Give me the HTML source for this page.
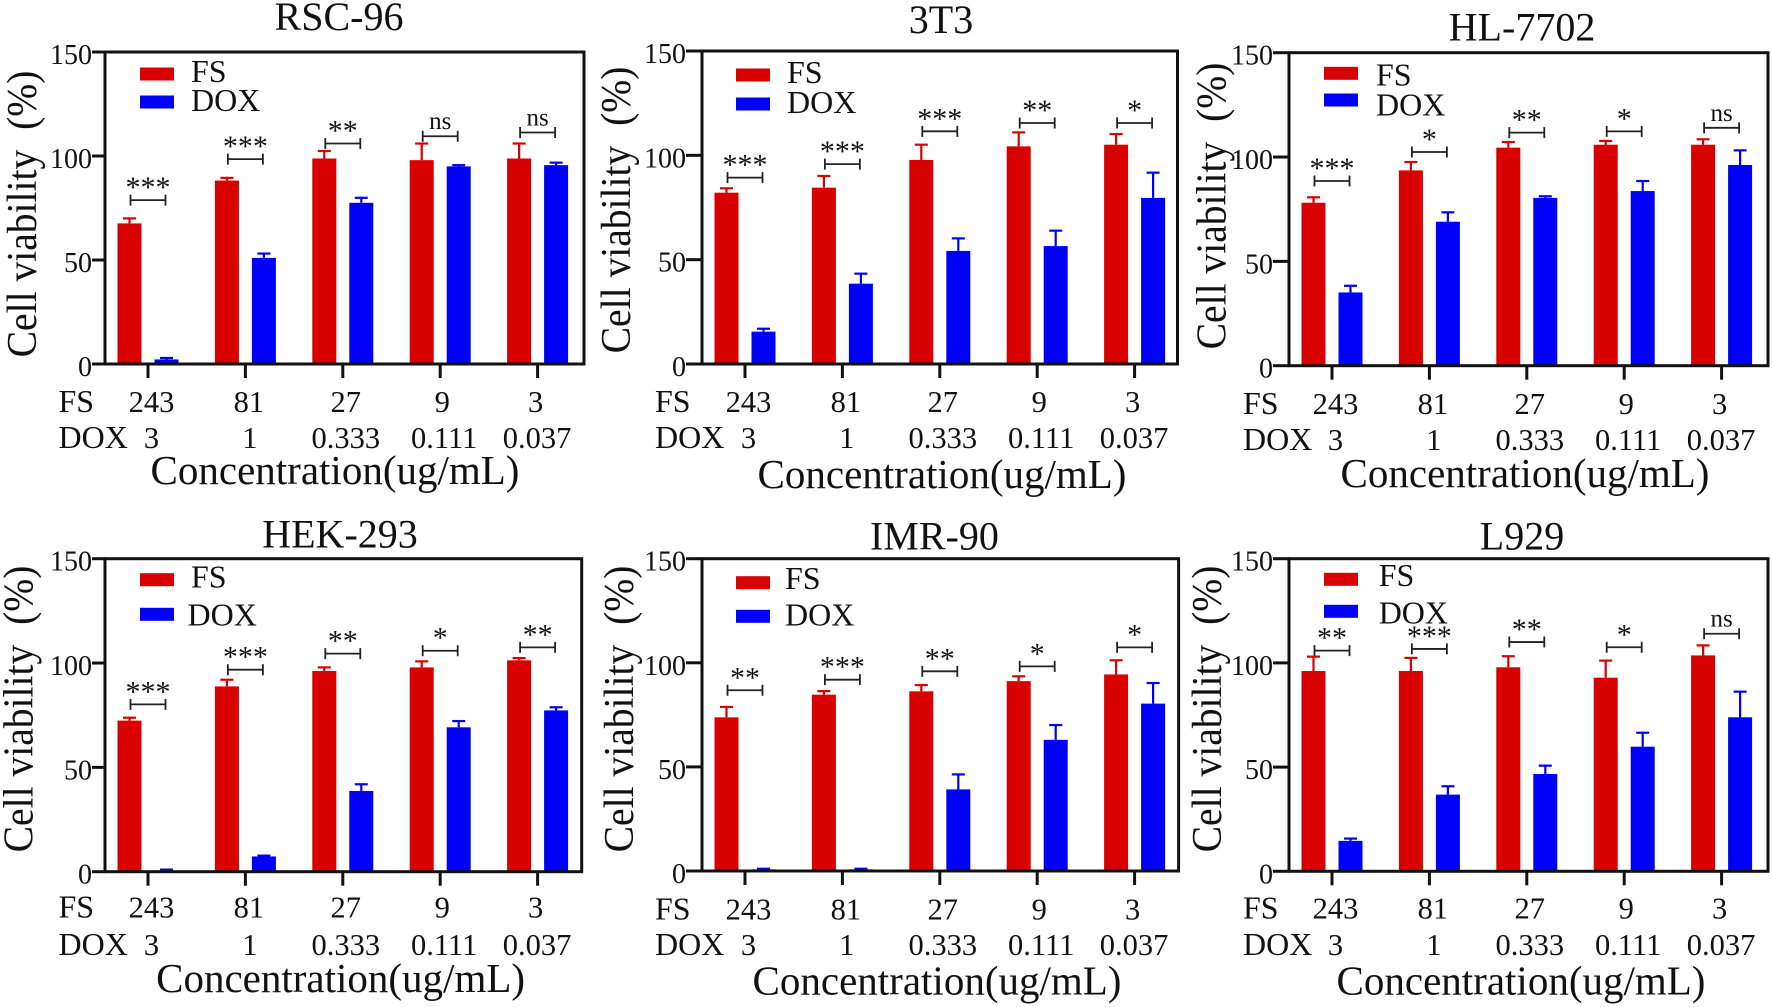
<!DOCTYPE html>
<html lang="en">
<head>
<meta charset="utf-8">
<title>Cell viability panels</title>
<style>
html,body{margin:0;padding:0;background:#fff;width:1772px;height:1007px;overflow:hidden}
svg{display:block;filter:blur(0.35px)}
text{font-family:"Liberation Serif",serif;fill:#111}
</style>
</head>
<body>
<svg id="chart" width="1772" height="1007" viewBox="0 0 1772 1007" xmlns="http://www.w3.org/2000/svg"></svg>
<script>
const fsDoses = ['243', '81', '27', '9', '3'];
const doxDoses = ['3', '1', '0.333', '0.111', '0.037'];
const yTicks = [0, 50, 100, 150];
const cellLines = ['RSC-96', '3T3', 'HL-7702', 'HEK-293', 'IMR-90', 'L929'];

const rscFs = [67.6, 88.2, 98.8, 98, 98.8];
const rscFsErr = [70, 89.5, 102.4, 106, 106];
const rscDox = [2.2, 51, 77.5, 95, 95.6];
const rscDoxErr = [2.9, 53.1, 79.9, 95.6, 96.8];
const rscSigLevel = [78.8, 98.5, 106, 109.5, 111.3];
const rscSigLabel = ['***', '***', '**', 'ns', 'ns'];

const t3Fs = [82.1, 84.5, 97.8, 104.3, 105.1];
const t3FsErr = [84.2, 90.1, 105.1, 111, 110.2];
const t3Dox = [15.5, 38.5, 54.2, 56.5, 79.6];
const t3DoxErr = [16.9, 43.3, 60.2, 63.9, 91.7];
const t3SigLevel = [89.3, 95.8, 111.5, 115.5, 115.5];
const t3SigLabel = ['***', '***', '***', '**', '*'];

const hlFs = [78.1, 93.6, 104.5, 105.9, 105.9];
const hlFsErr = [80.7, 97.6, 107.2, 107.7, 108.5];
const hlDox = [35.1, 69, 80.4, 83.7, 96.2];
const hlDoxErr = [38.3, 73.5, 81.2, 88.5, 103.2];
const hlSigLevel = [88.5, 102.4, 111.7, 112.3, 114];
const hlSigLabel = ['***', '*', '**', '*', 'ns'];

const hekFs = [72.4, 88.8, 96.2, 97.9, 101.3];
const hekFsErr = [73.8, 92, 97.9, 100.8, 102.4];
const hekDox = [0.6, 7.3, 38.7, 69.2, 77.3];
const hekDoxErr = [1, 7.7, 41.9, 72.2, 78.8];
const hekSigLevel = [80.2, 96.8, 104.5, 105.9, 107.5];
const hekSigLabel = ['***', '***', '**', '*', '**'];

const imrFs = [73.8, 84.7, 86.3, 91.2, 94.4];
const imrFsErr = [78.8, 86.4, 89.3, 93.5, 101.2];
const imrDox = [0.8, 0.8, 39.2, 63, 80.4];
const imrDoxErr = [1.1, 1.1, 46.4, 70.1, 90.3];
const imrSigLevel = [86.8, 91.9, 95.9, 98.3, 107.4];
const imrSigLabel = ['**', '***', '**', '*', '*'];

const lFs = [96.1, 96.1, 97.9, 92.9, 103.6];
const lFsErr = [103, 102.4, 103.2, 101.1, 108.4];
const lDox = [14.6, 36.8, 46.7, 59.8, 73.9];
const lDoxErr = [15.7, 40.8, 50.7, 66.5, 86.2];
const lSigLevel = [105.9, 106.7, 110, 107.5, 114];
const lSigLabel = ['**', '***', '**', '*', 'ns'];

const seriesByPanel = [
  {fs: rscFs, fsErr: rscFsErr, dox: rscDox, doxErr: rscDoxErr, level: rscSigLevel, sig: rscSigLabel},
  {fs: t3Fs, fsErr: t3FsErr, dox: t3Dox, doxErr: t3DoxErr, level: t3SigLevel, sig: t3SigLabel},
  {fs: hlFs, fsErr: hlFsErr, dox: hlDox, doxErr: hlDoxErr, level: hlSigLevel, sig: hlSigLabel},
  {fs: hekFs, fsErr: hekFsErr, dox: hekDox, doxErr: hekDoxErr, level: hekSigLevel, sig: hekSigLabel},
  {fs: imrFs, fsErr: imrFsErr, dox: imrDox, doxErr: imrDoxErr, level: imrSigLevel, sig: imrSigLabel},
  {fs: lFs, fsErr: lFsErr, dox: lDox, doxErr: lDoxErr, level: lSigLevel, sig: lSigLabel}
];

/* Panel frames and label anchors (layout only, no data values) */
const frames = [
  {L:105, R:584, T:52, B:364, tx:339, ty:30, xx:335, xy:484, rx:58.5, r1:412, r2:448, sx:140, s1:74, s2:102, lx1:191, lx2:191, l1:82, l2:111, yx:36, yy:215, tickGap:13},
  {L:702, R:1177.5, T:51, B:364, tx:941, ty:33, xx:942, xy:488, rx:655, r1:412, r2:448, sx:736, s1:75, s2:104, lx1:787, lx2:787, l1:83, l2:113, yx:630, yy:211, tickGap:16},
  {L:1289, R:1768, T:52.7, B:365.7, tx:1522, ty:40.7, xx:1525, xy:487, rx:1243, r1:414, r2:450, sx:1324, s1:73.3, s2:100, lx1:1376, lx2:1376, l1:85.7, l2:115.7, yx:1225.6, yy:207, tickGap:16},
  {L:105, R:581.7, T:558.7, B:871.7, tx:340, ty:547.7, xx:340.6, xy:992, rx:58.5, r1:917.7, r2:955, sx:140, s1:579.7, s2:614.3, lx1:191, lx2:187.5, l1:587.7, l2:625.3, yx:32.5, yy:710, tickGap:13},
  {L:702, R:1178.6, T:558.7, B:871, tx:934.4, ty:549.7, xx:937, xy:994.3, rx:655, r1:919.3, r2:955, sx:736, s1:582.7, s2:616.3, lx1:785, lx2:785, l1:589, l2:625.3, yx:632.9, yy:710, tickGap:16},
  {L:1289, R:1768, T:558.7, B:871.3, tx:1522, ty:549.7, xx:1521, xy:994.3, rx:1243, r1:918.7, r2:955, sx:1324, s1:579.3, s2:611.3, lx1:1378.7, lx2:1378.7, l1:586, l2:623.7, yx:1221, yy:710, tickGap:16}
];
const fsLabelNudge = [3.5, 3.5, 3, 2, -2];
const doxLabelNudge = [3.5, 4.5, 3, 4, -0.5];

const SVGNS = 'http://www.w3.org/2000/svg';
const FS_COLOR = '#d80000';
const DOX_COLOR = '#0000f8';
const svg = document.getElementById('chart');

function el(parent, tag, attrs) {
  const node = document.createElementNS(SVGNS, tag);
  for (const k in attrs) node.setAttribute(k, attrs[k]);
  parent.appendChild(node);
  return node;
}
function txt(parent, x, y, size, content, anchor) {
  const node = el(parent, 'text', {x: x, y: y, 'font-size': size, 'text-anchor': anchor || 'start'});
  node.textContent = content;
  return node;
}

frames.forEach(function (f, p) {
  const s = seriesByPanel[p];
  const yScale = function (v) { return f.B - (v / 150) * (f.B - f.T); };
  const xScale = function (i) { return f.L + 43 + i * 97.4; };
  const BAR_W = 24, BAR_OFF = 18.5, CAP = 13;

  const g = el(svg, 'g', {});
  
  

  const title = txt(g, f.tx, f.ty, 40, cellLines[p], 'middle');
  
  

  const yTitle = txt(g, 0, 0, 41, 'Cell viability\u00A0\u00A0(%)', 'middle');
  yTitle.setAttribute('transform', 'translate(' + f.yx + ',' + (f.yy - 1) + ') rotate(-90) scale(0.965,1.04)');
  
  

  const xTitle = txt(g, f.xx, f.xy, 41, 'Concentration(ug/mL)', 'middle');
  
  

  /* bars and error bars */
  function drawBars(values, errs, color, offset, label) {
    values.forEach(function (v, i) {
      const cx = xScale(i) + offset;
      const top = yScale(v);
      const errTop = yScale(errs[i]);
      const stem = el(g, 'line', {x1: cx, x2: cx, y1: top, y2: errTop, stroke: color, 'stroke-width': 2.2});
      
      
      const cap = el(g, 'line', {x1: cx - CAP / 2, x2: cx + CAP / 2, y1: errTop, y2: errTop, stroke: color, 'stroke-width': 2.2});
      
      
      const bar = el(g, 'rect', {x: cx - BAR_W / 2, y: top, width: BAR_W, height: Math.max(0, f.B - top), fill: color});
      
      
    });
  }
  drawBars(s.fs, s.fsErr, FS_COLOR, -BAR_OFF, 'fs');
  drawBars(s.dox, s.doxErr, DOX_COLOR, BAR_OFF, 'dox');

  /* plot frame */
  const frame = el(g, 'rect', {x: f.L, y: f.T, width: f.R - f.L, height: f.B - f.T, fill: 'none', stroke: '#111', 'stroke-width': 3});
  
  

  /* y axis */
  yTicks.forEach(function (t) {
    const y = yScale(t);
    const tick = el(g, 'line', {x1: f.L - f.tickGap, x2: f.L, y1: y, y2: y, stroke: '#111', 'stroke-width': 3});
    
    
    const lab = txt(g, f.L - f.tickGap, y + 12, 28, String(t), 'end');
    
    
  });

  /* x ticks and two rows of dose labels */
  const rowFs = txt(g, f.rx, f.r1, 32, 'FS');
  
  
  const rowDox = txt(g, f.rx, f.r2, 32, 'DOX');
  
  

  fsDoses.forEach(function (d, i) {
    const x = xScale(i);
    const tick = el(g, 'line', {x1: x, x2: x, y1: f.B, y2: f.B + 14, stroke: '#111', 'stroke-width': 3});
    
    
    const a = txt(g, x + fsLabelNudge[i], f.r1, 30.5, d, 'middle');
    
    
    const b = txt(g, x + doxLabelNudge[i], f.r2, 30.5, doxDoses[i], 'middle');
    
    
  });

  /* significance brackets */
  s.sig.forEach(function (lbl, i) {
    const cx = xScale(i);
    const y = yScale(s.level[i]);
    const hw = 17.5;
    const bracket = el(g, 'path', {d: 'M' + (cx - hw) + ' ' + (y - 5.5) + 'V' + (y + 5.5) + 'M' + (cx - hw) + ' ' + y + 'H' + (cx + hw) + 'M' + (cx + hw) + ' ' + (y - 5.5) + 'V' + (y + 5.5), fill: 'none', stroke: '#222', 'stroke-width': 1.8});
    
    
    const isNs = lbl === 'ns';
    const mark = txt(g, cx, isNs ? y - 7 : y - 3, isNs ? 25 : 30, lbl, 'middle');
    mark.setAttribute('fill', '#333');
    
    
  });

  /* legend */
  const sw1 = el(g, 'rect', {x: f.sx, y: f.s1 - 6.5, width: 34, height: 13, fill: FS_COLOR});
  
  
  const sw2 = el(g, 'rect', {x: f.sx, y: f.s2 - 6.5, width: 34, height: 13, fill: DOX_COLOR});
  
  
  const l1 = txt(g, f.lx1, f.l1, 32, 'FS');
  
  
  const l2 = txt(g, f.lx2, f.l2, 32, 'DOX');
  
  
});
</script>
</body>
</html>
